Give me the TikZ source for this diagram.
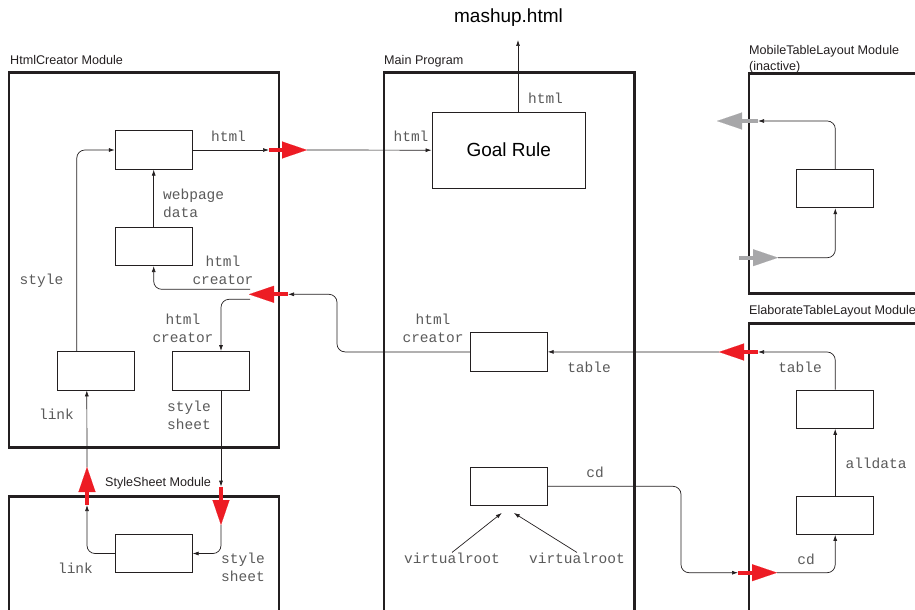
\documentclass[tikz,border=0pt]{standalone}
\usepackage{fontspec}
\setmainfont{Liberation Sans}
\newfontfamily\monofont{Liberation Mono}
\usetikzlibrary{arrows.meta,positioning}
\definecolor{PortRed}{HTML}{ED1C24}
\definecolor{PortGrey}{HTML}{A7A7A9}
\definecolor{LabelGrey}{HTML}{5A5A5A}
\definecolor{ModuleDark}{HTML}{231F20}

\tikzset{
  module/.style={draw=ModuleDark, line width=2.6pt},
  unit/.style={draw=ModuleDark, line width=0.8pt, minimum width=77pt, minimum height=38.5pt, inner sep=0pt},
  flow/.style={draw=ModuleDark, -{Latex[length=6pt,width=4pt]}, line width=0.7pt, rounded corners=8pt},
  port/.style={line width=4pt, draw=PortRed, -{Triangle[length=25pt,width=17pt,line width=0.1pt]}},
  sleep/.style={port, draw=PortGrey},
  data/.style={font=\monofont\fontsize{14.5}{18}\selectfont, text=LabelGrey, inner sep=0pt},
  modlabel/.style={font=\fontsize{12.6}{15.5}\selectfont, text=ModuleDark, inner sep=0pt}
}

\begin{document}
\begin{tikzpicture}[x=1pt, y=-1pt]
\useasboundingbox (0,0) rectangle (915,610);

% Modules
\draw[module] (9,72.7) rectangle (279,447.7);
\draw[module] (9,496.7) rectangle (279,640);
\draw[module] (384,72.7) rectangle (634.3,640);
\draw[module] (749,73.3) rectangle (950,293.3);
\draw[module] (749,323.3) rectangle (950,640);

\node[modlabel, anchor=base west] (htmlMod) at (10,64.5) {HtmlCreator Module};
\node[modlabel, anchor=base west] (sheetMod) at (105,486.5) {StyleSheet Module};
\node[modlabel, anchor=base west] (mainMod) at (384,64.5) {Main Program};
\node[modlabel, anchor=north west, align=left] (mobileMod) at (749,45.5) {MobileTableLayout Module\\(inactive)};
\node[modlabel, anchor=base west] (tableMod) at (749,314.5) {ElaborateTableLayout Module};

% Units
\foreach \name/\x/\y in {page/153.7/150, creator/153.7/246.4, link/95.8/370.7,
  sheet/211/370.7, styler/153.7/553.5, table/508.8/351.9, root/508.8/486.3,
  mobile/835.3/188.5, layout/835.2/409.2, collect/835.2/515.2}
  \node[unit] (\name) at (\x,\y) {};
\node[unit, minimum width=153.7pt, minimum height=76.3pt, font=\fontsize{19}{22}\selectfont] (goal) at (508.8,150.2) {Goal Rule};
\node[font=\fontsize{19}{22}\selectfont, inner sep=0pt] (mashup) at (508.5,18) {mashup.html};

% Port ends
\coordinate (outA) at (269,150);   \coordinate (inA) at (307,150);
\coordinate (outF) at (288,294.3); \coordinate (inF) at (249,294.3);
\coordinate (splitUp) at (250,289.3); \coordinate (splitDown) at (250,299.3);
\coordinate (outD) at (221,486.7); \coordinate (inD) at (221,525);
\coordinate (outE) at (87,505);    \coordinate (inE) at (87,467);
\coordinate (outT) at (758,352);   \coordinate (inT) at (719,352);
\coordinate (outG) at (738,572.7); \coordinate (inG) at (777,572.7);
\coordinate (outM) at (758,121);   \coordinate (inM) at (717,121);
\coordinate (wakeA) at (739,257.7); \coordinate (wakeB) at (778,257.7);
\coordinate (top) at (518,40);

% Connectors
\draw[flow] (page.east) -- (outA);
\draw[flow] (inA) -- (goal.west);
\draw[flow] (goal.north -| top) -- (top);
\draw[flow] (creator.north) -- (page.south);
\draw[flow] (table.west) -| (337,294.3) -- (outF);
\draw[flow] (splitUp) -| (creator.south);
\draw[flow] (splitDown) -| ([xshift=10pt]sheet.north);
\draw[flow] ([xshift=10pt]sheet.south) -- (outD);
\draw[flow] (inD) |- (styler.east);
\draw[flow] (styler.west) -| (outE);
\draw[flow] (inE) -- ([xshift=-9pt]link.south);
\draw[flow] ([xshift=-19pt]link.north) |- (page.west);
\draw[flow] (layout.north) |- (outT);
\draw[flow] (inT) -- (table.east);
\draw[flow] (root.east) -| (681,572.7) -- (outG);
\draw[flow] (inG) -| (collect.south);
\draw[flow] (collect.north) -- (layout.south);
\draw[flow] (mobile.north) |- (outM);
\draw[flow] (wakeB) -| (mobile.south);

% Module borders crossed
\foreach \a/\b in {outA/inA, outF/inF, outD/inD, outE/inE, outT/inT, outG/inG}
  \draw[port] (\a) -- (\b);
\draw[sleep] (outM) -- (inM);
\draw[sleep] (wakeA) -- (wakeB);

% Data labels
\node[data] (lblPage) at (228.5,136) {html};
\node[data, align=left, anchor=west] (lblWeb) at (163,203) {webpage\\data};
\node[data, align=center] (lblCreator) at (223,270) {html\\creator};
\node[data] (lblStyle) at (41.5,281) {style};
\node[data, align=center] (lblSplit) at (183,328) {html\\creator};
\node[data] (lblLink) at (56.5,414) {link};
\node[data, align=left, anchor=west] (lblSheet) at (167,415) {style\\sheet};
\node[data] (lblLink2) at (75.5,568) {link};
\node[data, align=left, anchor=west] (lblSheet2) at (221,567.5) {style\\sheet};
\node[data] (lblGoalIn) at (411,136) {html};
\node[data] (lblGoalOut) at (545.5,98) {html};
\node[data, align=center] (lblTable) at (433,328) {html\\creator};
\node[data] (lblTableIn) at (589,367) {table};
\node[data] (lblCd) at (595,472) {cd};
\node[data] (vrA) at (452,558) {virtualroot};
\node[data] (vrB) at (577,558) {virtualroot};
\node[data] (lblLayout) at (800,367) {table};
\node[data] (lblAll) at (876,463) {alldata};
\node[data] (lblCd2) at (806,559) {cd};

\draw[flow] (vrA.north) -- ([xshift=-7pt,yshift=-7pt]root.south);
\draw[flow] (vrB.north) -- ([xshift=5pt,yshift=-7pt]root.south);
\end{tikzpicture}
\end{document}
